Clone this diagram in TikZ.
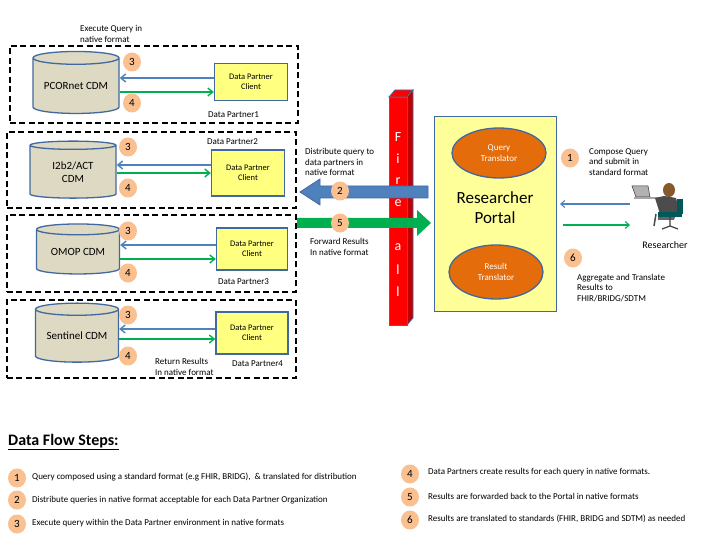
\documentclass[tikz,border=0pt]{standalone}
\usepackage{fontspec}
\setmainfont{Carlito}
\usetikzlibrary{shapes.geometric,arrows.meta,shapes.arrows}
\definecolor{dbblue}{RGB}{65,105,160}
\definecolor{cylfill}{RGB}{221,217,195}
\definecolor{clientfill}{RGB}{255,255,128}
\definecolor{portalfill}{RGB}{255,255,153}
\definecolor{badge}{RGB}{250,192,144}
\definecolor{ellfill}{RGB}{228,108,10}
\definecolor{arrblue}{RGB}{79,129,189}
\definecolor{arrgreen}{RGB}{0,176,80}
\begin{document}
\begin{tikzpicture}[x=1pt,y=-1pt,
  txt/.style={font=\fontsize{9}{10.5}\selectfont,align=left,inner sep=0pt},
  ltxt/.style={font=\fontsize{9}{10.5}\selectfont,align=left,inner sep=0pt},
  partner/.style={draw,line width=1.8pt,dash pattern=on 6pt off 3.5pt},
  cyl/.style={cylinder,shape border rotate=90,aspect=0.2,draw=dbblue,line width=1.3pt,fill=cylfill,minimum width=86pt,font=\fontsize{11}{13}\selectfont,align=center,inner sep=0pt},
  client/.style={draw=dbblue,line width=1.3pt,fill=clientfill,font=\fontsize{8.5}{10.5}\selectfont,align=center,inner sep=0pt},
  badge/.style={ellipse,fill=badge,minimum width=18pt,minimum height=19pt,inner sep=0pt,font=\fontsize{11}{12}\selectfont},
  barr/.style={draw=arrblue,line width=1.4pt,-{Straight Barb[length=5pt,width=8pt]}},
  garr/.style={draw=arrgreen,line width=1.4pt,-{Straight Barb[length=5pt,width=8pt]}},
  trans/.style={ellipse,draw=dbblue,line width=1.3pt,fill=ellfill,text=white,font=\fontsize{9}{11}\selectfont,align=center,inner sep=0pt}
]
\useasboundingbox (0,0) rectangle (720,540);
\fill[white] (0,0) rectangle (720,540);

% partner boxes
\node[partner,minimum width=288pt,minimum height=77pt,anchor=north west] (p1) at (9,45) {};
\node[partner,minimum width=289pt,minimum height=76pt,anchor=north west] (p2) at (6,131) {};
\node[partner,minimum width=289pt,minimum height=77pt,anchor=north west] (p3) at (6,214) {};
\node[partner,minimum width=289pt,minimum height=78pt,anchor=north west] (p4) at (6,299) {};

% cylinders
\node[cyl,minimum height=62pt] (d1) at (76,86) {PCORnet CDM};
\node[cyl,minimum height=57pt] (d2) at (73,172) {I2b2/ACT\\CDM};
\node[cyl,minimum width=83pt,minimum height=50pt] (d3) at (78,252) {OMOP CDM};
\node[cyl,minimum width=83pt,minimum height=59pt] (d4) at (77,336) {Sentinel CDM};

% clients
\node[client,minimum width=73pt,minimum height=37pt] (c1) at (251,82) {Data Partner\\Client};
\node[client,minimum width=73pt,minimum height=46pt] (c2) at (248,173) {Data Partner\\Client};
\node[client,minimum width=71pt,minimum height=42pt] (c3) at (252,249) {Data Partner\\Client};
\node[client,minimum width=72pt,minimum height=42pt] (c4) at (252,333) {Data Partner\\Client};

% arrows
\draw[barr] (c1.west |- 0,78) -- (d1.east |- 0,78);
\draw[garr] (d1.east |- 0,92) -- (c1.west |- 0,92);
\draw[barr] (c2.west |- 0,165) -- (d2.east |- 0,165);
\draw[garr] (d2.east |- 0,173) -- (c2.west |- 0,173);
\draw[barr] (c3.west |- 0,245) -- (d3.east |- 0,245);
\draw[garr] (d3.east |- 0,259) -- (c3.west |- 0,259);
\draw[barr] (c4.west |- 0,329) -- (d4.east |- 0,329);
\draw[garr] (d4.east |- 0,339) -- (c4.west |- 0,339);

% badges
\node[badge] (b13) at (132,62) {3};
\node[badge] (b14) at (132,103) {4};
\node[badge] (b23) at (128,147) {3};
\node[badge] (b24) at (128,188) {4};
\node[badge] (b33) at (128,231) {3};
\node[badge] (b34) at (128,273) {4};
\node[badge] (b43) at (128,315) {3};
\node[badge] (b44) at (128,356) {4};

% labels
\node[txt,anchor=west] (t1) at (80,34) {Execute Query in\\native format};
\node[txt,anchor=west] (l1) at (208,115) {Data Partner1};
\node[txt,anchor=west] (l2) at (207,142) {Data Partner2};
\node[txt,anchor=west] (l3) at (218,282) {Data Partner3};
\node[txt,anchor=west] (l4) at (232,364) {Data Partner4};
\node[txt,anchor=west] (rr) at (155,367) {Return Results\\In native format};

% firewall
\fill[red,draw=dbblue,line width=0.8pt] (389,97) -- (395,90) -- (413,90) -- (407,97) -- cycle;
\fill[red!75!black,draw=dbblue,line width=0.8pt] (407,97) -- (413,90) -- (413,318) -- (407,325) -- cycle;
\node[fill=red,draw=dbblue,line width=0.8pt,minimum width=18pt,minimum height=228pt,anchor=north west,inner sep=0pt] (fw) at (389,97) {};
\foreach \c/\yy in {F/137,i/159,r/181,e/203,w/225,a/247,l/270,l/292}
  \node[text=white,font=\fontsize{14}{16}\selectfont,inner sep=0pt] at (398,\yy) {\c};

% portal
\node[draw=dbblue,line width=1.3pt,fill=portalfill,minimum width=122pt,minimum height=195pt,anchor=north west,inner sep=0pt] (portal) at (434,116) {};
\node[font=\fontsize{17}{20}\selectfont,align=center,inner sep=0pt] (pt) at (495,208) {Researcher\\Portal};
\node[trans,minimum width=94pt,minimum height=50pt] (qt) at (499,153) {Query\\Translator};
\node[trans,minimum width=94pt,minimum height=54pt] (rt) at (496,272) {Result\\Translator};

% big arrows
\draw[draw=dbblue,fill=arrblue,line width=0.8pt] (428,186) -- (320,186) -- (320,179) -- (300,192) -- (320,205) -- (320,198) -- (428,198) -- cycle;
\fill[arrgreen] (297,218) -- (417,218) -- (417,210) -- (431,223) -- (417,236) -- (417,228) -- (297,228) -- cycle;
\node[badge] (b2) at (340,191) {2};
\node[badge] (b5) at (340,223) {5};
\node[txt,anchor=west] (dq) at (305,162) {Distribute query to\\data partners in\\native format};
\node[txt,anchor=west] (fr) at (310,247) {Forward Results\\In native format};

% researcher
\fill[gray!60] (632,186) -- (648,186) -- (650,197) -- (636,197) -- cycle;
\draw[gray!40!black,line width=0.5pt] (632,186) -- (648,186) -- (650,197) -- (636,197) -- cycle;
\fill[gray!70] (634,197) -- (660,197) -- (660,199) -- (634,199) -- cycle;
\fill[brown!70!black] (669,190) ellipse (6pt and 7pt);
\fill[gray!60!black] (655,198) -- (664,196) -- (676,198) -- (680,214) -- (660,214) -- cycle;
\fill[gray!80!black] (658,214) -- (676,214) -- (674,220) -- (658,220) -- cycle;
\fill[teal!70!black] (677,199) rectangle (683,214);
\fill[teal!70!black] (658,212) rectangle (682,217);
\draw[gray!50!black,line width=1.2pt] (670,217) -- (670,226) (670,226) -- (662,229) (670,226) -- (678,229);
\draw[gray!60!black,line width=1.5pt] (656,214) -- (654,226);
\coordinate (rs) at (630,204);
\node[font=\fontsize{10}{12}\selectfont,inner sep=0pt] (rl) at (665,245) {Researcher};
\coordinate (pr) at (560,204);
\coordinate (ga) at (563,225);
\coordinate (gb) at (630,225);
\draw[draw=arrblue,line width=1.1pt,-{Straight Barb[length=4pt,width=7pt]}] (rs) -- (pr);
\draw[draw=arrgreen,line width=1.1pt,-{Straight Barb[length=4pt,width=7pt]}] (ga) -- (gb);
\node[badge] (b1) at (570,158) {1};
\node[badge] (b6) at (573,258) {6};
\node[txt,anchor=west] (cq) at (589,162) {Compose Query\\and submit in\\standard format};
\node[txt,anchor=west] (ag) at (577,288) {Aggregate and Translate\\Results to\\FHIR/BRIDG/SDTM};

% legend
\node[anchor=west,inner sep=0pt,font=\bfseries\fontsize{16}{18}\selectfont] (ttl) at (8,442) {\underline{Data Flow Steps:}};
\node[badge] (s1) at (17,478) {1};
\node[ltxt,anchor=west] (s1t) at (32,477) {Query composed using a standard format (e.g FHIR, BRIDG),\ \ \& translated for distribution};
\node[badge] (s2) at (17,500) {2};
\node[ltxt,anchor=west] (s2t) at (32,500) {Distribute queries in native format acceptable for each Data Partner Organization};
\node[badge] (s3) at (17,524) {3};
\node[ltxt,anchor=west] (s3t) at (32,523) {Execute query within the Data Partner environment in native formats};
\node[badge] (s4) at (410,474) {4};
\node[ltxt,anchor=west] (s4t) at (428,472) {Data Partners create results for each query in native formats.};
\node[badge] (s5) at (410,497) {5};
\node[ltxt,anchor=west] (s5t) at (428,496) {Results are forwarded back to the Portal in native formats};
\node[badge] (s6) at (410,520) {6};
\node[ltxt,anchor=west] (s6t) at (428,519) {Results are translated to standards (FHIR, BRIDG and SDTM) as needed};
\end{tikzpicture}
\end{document}
